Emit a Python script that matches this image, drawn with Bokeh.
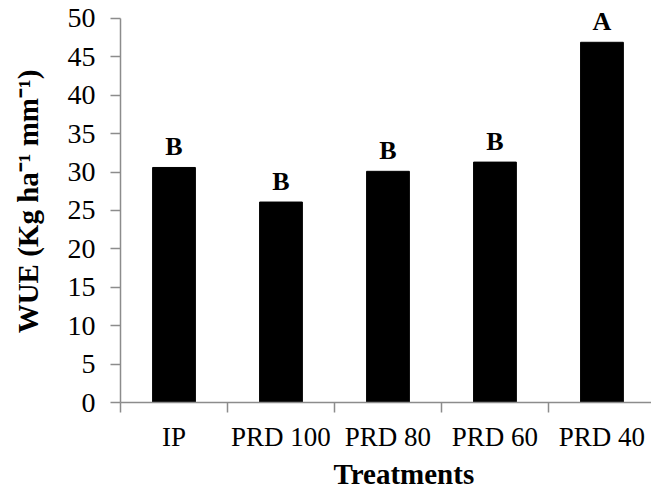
from bokeh.plotting import figure
from bokeh.models import Range1d, FixedTicker, SingleIntervalTicker, ColumnDataSource, LabelSet, Title
from bokeh.embed import file_html
from bokeh.resources import INLINE

categories = ["IP", "PRD 100", "PRD 80", "PRD 60", "PRD 40"]
wue = [30.6, 26.1, 30.1, 31.3, 46.9]
letters = ["B", "B", "B", "B", "A"]
y_ticks_interval = 5
y_axis_max = 50

xpos = [i + 0.5 for i in range(len(categories))]
src = ColumnDataSource(dict(x=xpos, top=wue, lab=letters))

p = figure(width=651, height=493, output_backend="svg", toolbar_location=None,
           x_range=Range1d(0, 4.963), y_range=Range1d(0, 52.34),
           min_border_left=120, min_border_right=0, min_border_top=0, min_border_bottom=91)
p.outline_line_color = None
p.xgrid.visible = False
p.ygrid.visible = False
p.background_fill_color = "white"

p.vbar(x="x", top="top", width=0.4, bottom=0, source=src,
       fill_color="black", line_color="black")
labels = LabelSet(x="x", y="top", text="lab", source=src, text_align="center",
                  text_baseline="alphabetic", y_offset=12,
                  text_font="Liberation Serif", text_font_style="bold",
                  text_font_size="26px", text_color="black")
p.add_layout(labels)

axis_col = "#8c8c8c"
xa = p.xaxis[0]
xa.ticker = FixedTicker(ticks=xpos, minor_ticks=list(range(len(categories) + 1)))
xa.major_label_overrides = {x: c for x, c in zip(xpos, categories)}
xa.major_tick_line_color = None
xa.minor_tick_in = 0
xa.minor_tick_out = 10
xa.minor_tick_line_color = axis_col
xa.minor_tick_line_width = 1.5
xa.axis_line_color = axis_col
xa.axis_line_width = 1.5
xa.major_label_standoff = 9
xa.major_label_text_font = "Liberation Serif"
xa.major_label_text_font_size = "27px"
xa.major_label_text_color = "black"

p.add_layout(Title(text="Treatments", align="left", offset=213, standoff=2,
                   text_font="Liberation Serif", text_font_style="bold",
                   text_font_size="29px", text_color="black"), "below")

ya = p.yaxis[0]
ya.ticker = SingleIntervalTicker(interval=y_ticks_interval, num_minor_ticks=0)
ya.bounds = (0, y_axis_max)
ya.major_tick_in = 0
ya.major_tick_out = 10
ya.major_tick_line_color = axis_col
ya.major_tick_line_width = 1.5
ya.axis_line_color = axis_col
ya.axis_line_width = 1.5
ya.major_label_standoff = 15
ya.major_label_text_font = "Liberation Serif"
ya.major_label_text_font_size = "28px"
ya.major_label_text_color = "black"
ya.axis_label = "WUE (Kg ha\u207b\u00b9 mm\u207b\u00b9)"
ya.axis_label_text_font = "Liberation Serif"
ya.axis_label_text_font_style = "bold"
ya.axis_label_text_font_size = "29px"
ya.axis_label_text_color = "black"
ya.axis_label_standoff = 21

open("out.html", "w").write(file_html(p, INLINE))
